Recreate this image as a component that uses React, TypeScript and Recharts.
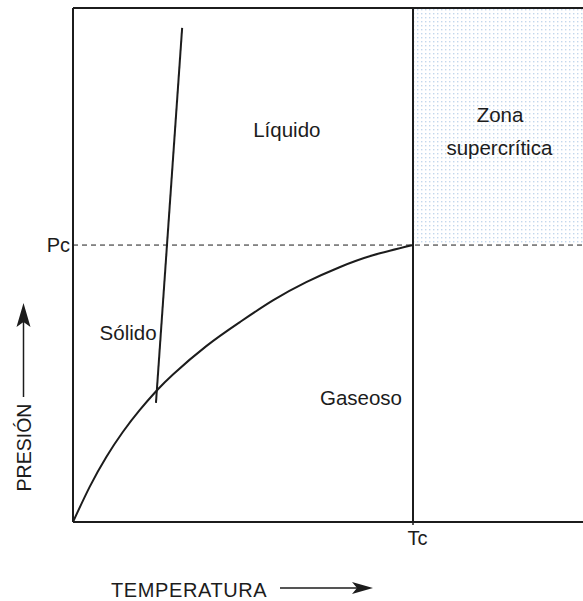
import React from 'react';
import {
  LineChart,
  Line,
  XAxis,
  YAxis,
  ReferenceLine,
  ReferenceArea,
  ReferenceDot,
  Label,
} from 'recharts';

const FONT = '"Liberation Sans", Arial, Helvetica, sans-serif';
const INK = '#1c1c1c';

// ---- data (arbitrary units: Tc = 100, Pc = 100) ----
const xDomain = [0, 150];
const yDomain = [0, 185.6];
const criticalT = 100;
const criticalP = 100;

const vaporT = [0, 4.9, 9.8, 14.7, 19.6, 24.5, 29.4, 39.2, 49.0, 58.8, 68.6, 78.4, 88.2, 100];
const vaporP = [0, 12.7, 23.5, 32.6, 40.4, 47.3, 53.3, 63.5, 72.1, 80.0, 86.6, 92.0, 96.3, 100];

const fusionT = [24.4, 32.1];
const fusionP = [43.0, 178.4];

const xTickLabels = ['Tc'];
const yTickLabels = ['Pc'];

const regionNames = ['Líquido', 'Sólido', 'Gaseoso', 'Zona', 'supercrítica'];
const regionT = [62.9, 16.2, 84.7, 125.6, 125.4];
const regionP = [141.6, 68.2, 44.8, 147.0, 135.1];

const xAxisTitle = 'TEMPERATURA';
const yAxisTitle = 'PRESIÓN';

const vaporData = vaporT.map((t, i) => ({ t, p: vaporP[i] }));
const fusionData = fusionT.map((t, i) => ({ t, p: fusionP[i] }));

const XTick = (props: any) => {
  const { x, y, index } = props;
  return (
    <text x={x + 4.5} y={y} dy="0.71em" textAnchor="middle" fontSize={20} fontFamily={FONT} fill={INK}>
      {xTickLabels[index] ?? ''}
    </text>
  );
};

const YTick = (props: any) => {
  const { x, y, index } = props;
  return (
    <text x={x} y={y} dy="0.355em" textAnchor="end" fontSize={20} fontFamily={FONT} fill={INK}>
      {yTickLabels[index] ?? ''}
    </text>
  );
};

const XTitle = (props: any) => {
  const vb = props.viewBox || { x: 73, y: 522 };
  const x0 = vb.x;
  const y0 = vb.y;
  const ay = y0 + 66;
  return (
    <g>
      <text x={x0 + 38} y={y0 + 75} fontSize={20} letterSpacing={0.6} fontFamily={FONT} fill={INK}>
        {xAxisTitle}
      </text>
      <line x1={x0 + 207} y1={ay} x2={x0 + 285} y2={ay} stroke={INK} strokeWidth={1.5} />
      <polygon
        points={`${x0 + 300},${ay} ${x0 + 279},${ay - 6} ${x0 + 284},${ay} ${x0 + 279},${ay + 6}`}
        fill={INK}
      />
    </g>
  );
};

const YTitle = (props: any) => {
  const vb = props.viewBox || { x: 0, y: 8 };
  const y0 = vb.y;
  const ax = 23.5;
  return (
    <g>
      <text
        transform={`translate(31, ${y0 + 439.5}) rotate(-90)`}
        textAnchor="middle"
        fontSize={19.5}
        fontFamily={FONT}
        fill={INK}
      >
        {yAxisTitle}
      </text>
      <line x1={ax} y1={y0 + 389} x2={ax} y2={y0 + 312} stroke={INK} strokeWidth={1.5} />
      <polygon
        points={`${ax},${y0 + 295} ${ax - 7},${y0 + 319} ${ax},${y0 + 314} ${ax + 7},${y0 + 319}`}
        fill={INK}
      />
    </g>
  );
};

export default function App() {
  return (
    <div style={{ position: 'absolute', left: 0, top: 0, background: '#fff' }}>
      <LineChart width={583} height={601} margin={{ top: 8, right: 0, bottom: 0, left: 0 }}>
        <defs>
          <pattern id="superDots" x="0" y="0" width="4" height="4" patternUnits="userSpaceOnUse">
            <rect x="1" y="1" width="1.4" height="1.4" fill="#c3d7ec" />
          </pattern>
        </defs>
        <XAxis
          type="number"
          dataKey="t"
          domain={xDomain}
          allowDataOverflow
          ticks={[criticalT]}
          tick={<XTick />}
          tickSize={3}
          tickMargin={6}
          height={79}
          axisLine={{ stroke: INK, strokeWidth: 2 }}
          tickLine={{ stroke: INK, strokeWidth: 1.5 }}
        >
          <Label content={<XTitle />} />
        </XAxis>
        <YAxis
          type="number"
          dataKey="p"
          domain={yDomain}
          allowDataOverflow
          ticks={[criticalP]}
          tick={<YTick />}
          tickSize={1}
          tickMargin={2}
          tickLine={false}
          width={73}
          axisLine={{ stroke: INK, strokeWidth: 2 }}
        >
          <Label content={<YTitle />} />
        </YAxis>

        <ReferenceArea
          x1={criticalT}
          x2={xDomain[1]}
          y1={criticalP}
          y2={yDomain[1]}
          fill="url(#superDots)"
          fillOpacity={1}
          stroke="none"
        />
        <ReferenceLine y={yDomain[1]} stroke={INK} strokeWidth={2} />
        <ReferenceLine y={criticalP} stroke={INK} strokeWidth={1} strokeDasharray="5 4" />
        <ReferenceLine x={criticalT} stroke={INK} strokeWidth={2} />

        <Line
          data={vaporData}
          dataKey="p"
          type="natural"
          stroke={INK}
          strokeWidth={2}
          dot={false}
          activeDot={false}
          isAnimationActive={false}
        />
        <Line
          data={fusionData}
          dataKey="p"
          type="linear"
          stroke={INK}
          strokeWidth={2}
          dot={false}
          activeDot={false}
          isAnimationActive={false}
        />

        {regionNames.map((name, i) => (
          <ReferenceDot
            key={name}
            x={regionT[i]}
            y={regionP[i]}
            r={0}
            fill="none"
            stroke="none"
            label={{
              value: name,
              position: 'center',
              fontSize: 20.5,
              fontFamily: FONT,
              fill: INK,
            }}
          />
        ))}
      </LineChart>
    </div>
  );
}
